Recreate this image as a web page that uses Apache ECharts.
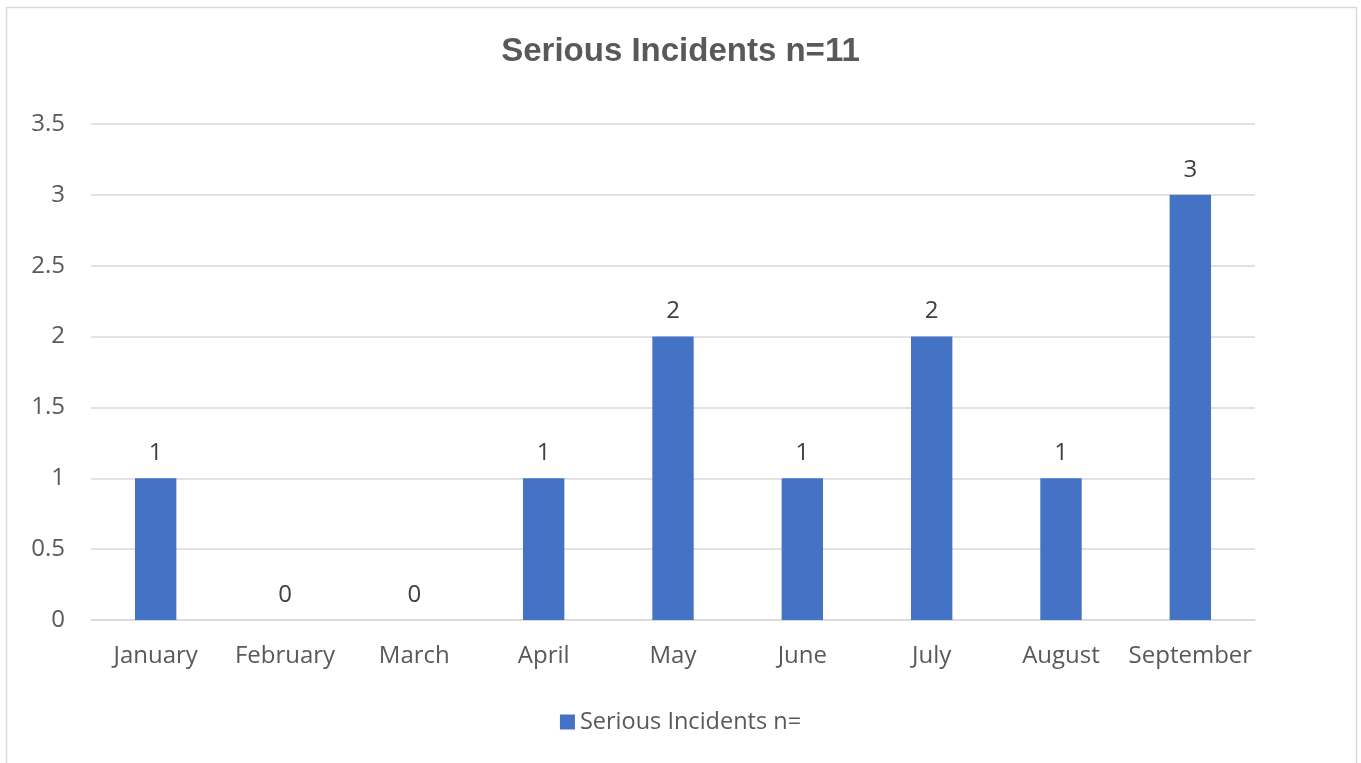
<!DOCTYPE html>
<html>
<head>
<meta charset="utf-8">
<script src="https://cdn.jsdelivr.net/npm/echarts@6/dist/echarts.min.js"></script>
<style>
html,body{margin:0;padding:0;background:#fff;}
#c{width:1361px;height:763px;}
</style>
</head>
<body>
<div id="c"></div>
<script>
const categories = ['January','February','March','April','May','June','July','August','September'];
const values = [1,0,0,1,2,1,2,1,3];
const seriesName = 'Serious Incidents n=';
const titleText = 'Serious Incidents n=11';

const chart = echarts.init(document.getElementById('c'));
const labelFont = 'Open Sans, Noto Sans, sans-serif';
chart.setOption({
  animation: false,
  backgroundColor: '#fff',
  title: {
    text: titleText,
    left: 'center',
    top: 30,
    textStyle: {fontFamily: 'Liberation Sans, Arial, sans-serif', fontSize: 33, fontWeight: 'bold', color: '#595959'}
  },
  graphic: [{
    type: 'rect',
    shape: {x: 6.5, y: 7.5, width: 1350, height: 770},
    style: {fill: 'none', stroke: '#d9d9d9', lineWidth: 1.5},
    silent: true
  }],
  legend: {
    data: [seriesName],
    bottom: 24,
    left: 'center',
    itemWidth: 15,
    itemHeight: 15,
    itemGap: 8,
    icon: 'rect',
    textStyle: {fontFamily: labelFont, fontSize: 23.5, color: '#595959'}
  },
  grid: {left: 91, right: 106, top: 124, bottom: 143, containLabel: false},
  xAxis: {
    type: 'category',
    data: categories,
    axisLine: {lineStyle: {color: '#d9d9d9', width: 1.5}},
    axisTick: {show: false},
    axisLabel: {interval: 0, fontFamily: labelFont, fontSize: 24, color: '#595959', margin: 24}
  },
  yAxis: {
    type: 'value',
    min: 0,
    max: 3.5,
    interval: 0.5,
    axisLine: {show: false},
    axisTick: {show: false},
    splitLine: {lineStyle: {color: '#d9d9d9', width: 1.5}},
    axisLabel: {fontFamily: labelFont, fontSize: 24, color: '#595959', margin: 26}
  },
  series: [{
    name: seriesName,
    type: 'bar',
    data: values,
    barWidth: '32%',
    itemStyle: {color: '#4472C4'},
    label: {
      show: true,
      position: 'top',
      distance: 13,
      fontFamily: labelFont,
      fontSize: 24,
      color: '#404040'
    }
  }]
});
</script>
</body>
</html>
